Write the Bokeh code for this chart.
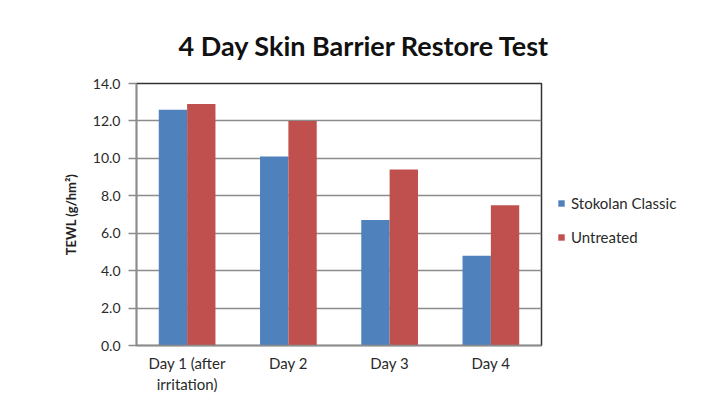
from bokeh.plotting import figure
from bokeh.layouts import row
from bokeh.models import FactorRange, Legend, LegendItem, NumeralTickFormatter, FixedTicker
from bokeh.transform import dodge
from bokeh.embed import file_html
from bokeh.resources import INLINE
from bokeh.models import ColumnDataSource

categories = ["Day 1 (after\nirritation)", "Day 2", "Day 3", "Day 4"]
stokolan = [12.6, 10.1, 6.7, 4.8]
untreated = [12.9, 12.0, 9.4, 7.5]
series_names = ["Stokolan Classic", "Untreated"]
colors = ["#4F81BD", "#C0504D"]
y_ticks = [0, 2, 4, 6, 8, 10, 12, 14]
title_text = "4 Day Skin Barrier Restore Test"
y_label = "TEWL (g/hm²)"

FONT = "Lato"

src = ColumnDataSource(dict(cat=categories, s=stokolan, u=untreated))

p = figure(x_range=FactorRange(*categories), y_range=(0, 14), width=550, height=396,
           output_backend="svg", toolbar_location=None, title=title_text,
           min_border_left=136, min_border_right=9, min_border_top=83, min_border_bottom=49)
p.background_fill_color = "white"
p.border_fill_color = "white"
p.outline_line_color = "#333333"
p.outline_line_width = 1.5

p.title.align = "left"
p.title.offset = 42
p.title.standoff = 44
p.title.text_font = FONT
p.title.text_font_style = "bold"
p.title.text_font_size = "27px"
p.title.text_color = "#111111"

r1 = p.vbar(x=dodge("cat", -0.14, range=p.x_range), top="s", width=0.28, source=src,
            fill_color=colors[0], line_color=None)
r2 = p.vbar(x=dodge("cat", 0.14, range=p.x_range), top="u", width=0.28, source=src,
            fill_color=colors[1], line_color=None)

p.xgrid.grid_line_color = None
p.ygrid.grid_line_color = "#8c8c8c"
p.ygrid.grid_line_width = 1.5
p.yaxis.ticker = FixedTicker(ticks=y_ticks)
p.yaxis.formatter = NumeralTickFormatter(format="0.0")
p.yaxis.axis_label = y_label
p.yaxis.axis_label_text_font = FONT
p.yaxis.axis_label_text_font_style = "bold"
p.yaxis.axis_label_text_font_size = "13px"
p.yaxis.axis_label_text_color = "#222222"
p.yaxis.axis_label_standoff = 11
p.yaxis.major_label_text_font = FONT
p.yaxis.major_label_text_font_size = "14px"
p.yaxis.major_label_text_color = "#2a2a2a"
p.yaxis.major_tick_out = 8
p.yaxis.major_tick_in = 0
p.yaxis.minor_tick_line_color = None
p.yaxis.major_tick_line_color = "#8c8c8c"
p.yaxis.major_tick_line_width = 1.5
p.yaxis.axis_line_color = "#8c8c8c"
p.yaxis.axis_line_width = 1.5
p.yaxis.major_label_standoff = 8

p.xaxis.major_tick_line_color = None
p.xaxis.minor_tick_line_color = None
p.xaxis.axis_line_color = "#8c8c8c"
p.xaxis.axis_line_width = 1.5
p.xaxis.major_label_text_font = FONT
p.xaxis.major_label_text_font_size = "15px"
p.xaxis.major_label_text_color = "#2a2a2a"
p.xaxis.major_label_standoff = 2

# Legend lives in a narrow companion figure so it is not clipped by the main frame
q = figure(width=151, height=396, output_backend="svg", toolbar_location=None,
           x_range=(0, 1), y_range=(0, 1), min_border=0)
q.xaxis.visible = False
q.yaxis.visible = False
q.grid.visible = False
q.outline_line_color = None
q.background_fill_color = "white"
q.border_fill_color = "white"
# zero-height proxies: they only supply the legend swatch colours
lr1 = q.vbar(x=[0.5], top=[0], width=0.1, fill_color=colors[0], line_color=None)
lr2 = q.vbar(x=[0.5], top=[0], width=0.1, fill_color=colors[1], line_color=None)

legend = Legend(items=[LegendItem(label=series_names[0], renderers=[lr1]),
                       LegendItem(label=series_names[1], renderers=[lr2])],
                location=(7, 98), border_line_color=None, background_fill_alpha=0,
                padding=0, margin=0, spacing=14, glyph_width=8, glyph_height=8,
                label_standoff=6, label_text_font=FONT, label_text_font_size="15px",
                label_text_color="#2a2a2a", label_height=20)
q.add_layout(legend, "center")

layout = row(p, q)
open("out.html", "w").write(file_html(layout, INLINE))
